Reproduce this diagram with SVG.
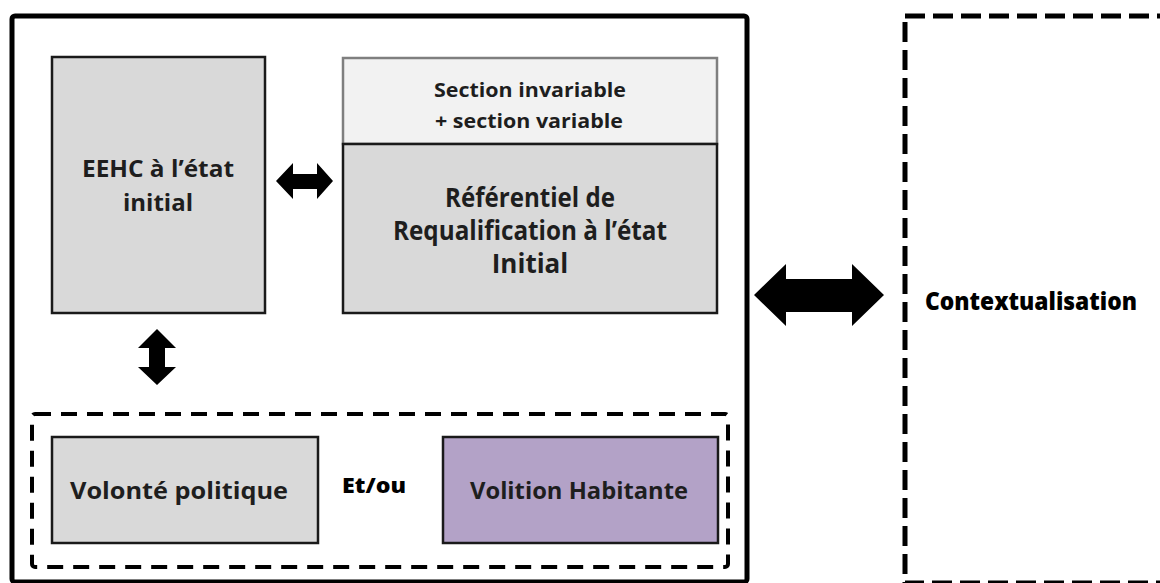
<svg xmlns="http://www.w3.org/2000/svg" width="1160" height="583" viewBox="0 0 1160 583">
  <style>
    .box { stroke: #1a1a1a; stroke-width: 2.5; }
    .gray { fill: #d9d9d9; }
    .light { fill: #f2f2f2; stroke: #7f7f7f; stroke-width: 2.5; }
    .purple { fill: #b3a2c7; }
    .lbl { font-family: "Open Sans", "Liberation Sans", sans-serif; font-weight: 700; fill: #1e1e1e; text-anchor: middle; }
    .bold { font-family: "Open Sans", "Liberation Sans", sans-serif; font-weight: 800; fill: #000; }
    .arrow { fill: #000; }
  </style>
  <rect width="1160" height="583" fill="#ffffff"/>
  <g id="outer-frame">
    <rect x="12" y="16" width="735" height="566" rx="3" fill="none" stroke="#000" stroke-width="5"/>
  </g>
  <g id="context-frame">
    <rect x="905" y="16" width="300" height="567" fill="none" stroke="#000" stroke-width="5" stroke-dasharray="20 8"/>
    <text class="bold" x="925" y="310" font-size="24" textLength="212" lengthAdjust="spacingAndGlyphs">Contextualisation</text>
  </g>
  <g id="eehc">
    <rect class="box gray" x="52" y="57" width="213" height="256"/>
    <text class="lbl" x="158" y="177" font-size="24" textLength="152" lengthAdjust="spacingAndGlyphs">EEHC à l’état</text>
    <text class="lbl" x="158" y="211" font-size="24">initial</text>
  </g>
  <g id="referentiel">
    <rect class="light" x="343" y="58" width="374" height="86"/>
    <rect class="box gray" x="343" y="144" width="374" height="169"/>
    <text class="lbl" x="530" y="97" font-size="20" textLength="192" lengthAdjust="spacingAndGlyphs">Section invariable</text>
    <text class="lbl" x="529" y="128" font-size="20" textLength="188" lengthAdjust="spacingAndGlyphs">+ section variable</text>
    <text class="lbl" x="530" y="207" font-size="26" textLength="170" lengthAdjust="spacingAndGlyphs">Référentiel de</text>
    <text class="lbl" x="530" y="240" font-size="26" textLength="274" lengthAdjust="spacingAndGlyphs">Requalification à l’état</text>
    <text class="lbl" x="530" y="273" font-size="26">Initial</text>
  </g>
  <g id="volonte-group">
    <rect x="32" y="414" width="696" height="153" rx="3" fill="none" stroke="#000" stroke-width="4" stroke-dasharray="16 10"/>
    <text class="bold" x="342" y="493" font-size="21" textLength="64" lengthAdjust="spacingAndGlyphs">Et/ou</text>
  </g>
  <g id="volonte">
    <rect class="box gray" x="52" y="437" width="266" height="106"/>
    <text class="lbl" x="179" y="499" font-size="24" textLength="218" lengthAdjust="spacingAndGlyphs">Volonté politique</text>
  </g>
  <g id="volition">
    <rect class="box purple" x="443" y="437" width="275" height="106"/>
    <text class="lbl" x="579" y="499" font-size="24" textLength="218" lengthAdjust="spacingAndGlyphs">Volition Habitante</text>
  </g>
  <g id="connectors">
    <path class="arrow" d="M276,181 L293,163 L293,174 L317,174 L317,163 L333,181 L317,199 L317,189 L293,189 L293,199 Z"/>
    <path class="arrow" d="M157,329 L176,348 L165,348 L165,367 L176,367 L157,385 L138,367 L149,367 L149,348 L138,348 Z"/>
    <path class="arrow" d="M754,295 L786,264 L786,279 L852,279 L852,264 L884,295 L852,326 L852,312 L786,312 L786,326 Z"/>
  </g>
</svg>
